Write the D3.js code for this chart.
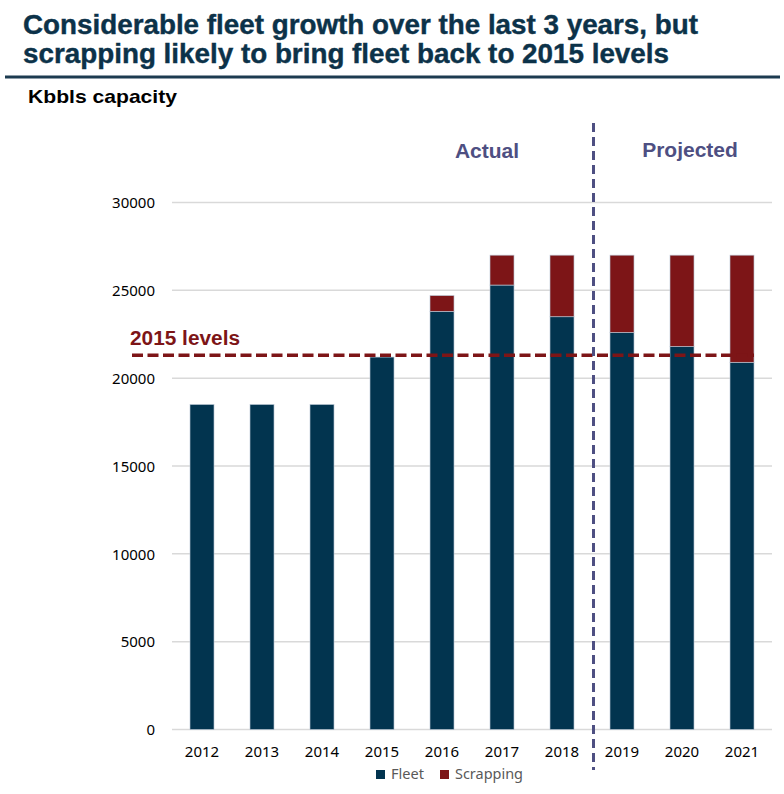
<!DOCTYPE html>
<html><head><meta charset="utf-8">
<script src="https://cdn.jsdelivr.net/npm/d3@7"></script>
<style>body{margin:0;background:#fff}svg{display:block}</style>
</head><body>
<svg id="c" width="784" height="794"></svg>
<script>
const years = ["2012","2013","2014","2015","2016","2017","2018","2019","2020","2021"];
const fleet = [18500,18500,18500,21200,23800,25300,23500,22600,21800,20900];
const scrapping = [0,0,0,0,900,1700,3500,4400,5200,6100];
const yTicks = [0,5000,10000,15000,20000,25000,30000];
const level2015 = 21300;
const seriesNames = ["Fleet","Scrapping"];
const colors = ["#02344f","#7d1517"];

const svg = d3.select("#c");
const x = d3.scaleBand().domain(years).range([172,772]).paddingInner(0.6).paddingOuter(0.3);
const y = d3.scaleLinear().domain([0,30000]).range([729.5,202.5]);
const sans = "Liberation Sans, Arial, sans-serif";

// title
svg.append("text").attr("x",23).attr("y",34).attr("font-family",sans)
  .attr("font-weight","bold").attr("font-size",27).attr("fill","#0c3249")
  .attr("stroke","#0c3249").attr("stroke-width",0.4)
  .attr("textLength",675).attr("lengthAdjust","spacingAndGlyphs")
  .text("Considerable fleet growth over the last 3 years, but");
svg.append("text").attr("x",23).attr("y",63).attr("font-family",sans)
  .attr("font-weight","bold").attr("font-size",27).attr("fill","#0c3249")
  .attr("stroke","#0c3249").attr("stroke-width",0.4)
  .attr("textLength",646).attr("lengthAdjust","spacingAndGlyphs")
  .text("scrapping likely to bring fleet back to 2015 levels");
svg.append("line").attr("x1",5).attr("x2",780).attr("y1",77).attr("y2",77).attr("stroke","#1c3b50").attr("stroke-width",3);
svg.append("text").attr("x",28).attr("y",103).attr("font-family",sans)
  .attr("font-weight","bold").attr("font-size",19).attr("fill","#000")
  .attr("textLength",149).attr("lengthAdjust","spacingAndGlyphs")
  .text("Kbbls capacity");

// grid
svg.append("g").selectAll("line").data(yTicks).join("line")
  .attr("x1",172).attr("x2",772).attr("y1",d=>y(d)).attr("y2",d=>y(d))
  .attr("stroke","#d9d9d9").attr("stroke-width",1.5);

// y axis labels
const yAxis = d3.axisLeft(y).tickValues(yTicks).tickSize(0).tickPadding(0).tickFormat(d3.format("d"));
const gy = svg.append("g").attr("transform","translate(155,0)").call(yAxis);
gy.select(".domain").remove();
gy.selectAll("text").attr("font-family","Noto Sans, sans-serif").attr("font-size",15).attr("fill","#000").attr("dy","0.35em");

// bars
const stackData = years.map((yr,i)=>({year:yr,Fleet:fleet[i],Scrapping:scrapping[i]}));
const stacked = d3.stack().keys(seriesNames)(stackData);
svg.append("g").selectAll("g").data(stacked).join("g").attr("fill",(d,i)=>colors[i])
  .selectAll("rect").data(d=>d.filter(p=>p[1]-p[0]>0)).join("rect")
  .attr("x",d=>x(d.data.year)).attr("width",x.bandwidth())
  .attr("y",d=>y(d[1])).attr("height",d=>y(d[0])-y(d[1]))
  .attr("stroke","#b9c7d4").attr("stroke-width",0.8).attr("stroke-opacity",0.8);

// x axis labels
const xAxis = d3.axisBottom(x).tickSize(0).tickPadding(0);
const gx = svg.append("g").attr("transform","translate(0,757)").call(xAxis);
gx.select(".domain").remove();
gx.selectAll("text").attr("font-family","Noto Sans, sans-serif").attr("font-size",15).attr("fill","#000").attr("dy",0);

// 2015 level line
svg.append("line").attr("x1",132).attr("x2",754).attr("y1",y(level2015)).attr("y2",y(level2015))
  .attr("stroke","#7d1517").attr("stroke-width",3.5).attr("stroke-dasharray","11,4.5");
svg.append("text").attr("x",130).attr("y",345).attr("font-family",sans)
  .attr("font-weight","bold").attr("font-size",20).attr("fill","#7d1517")
  .attr("textLength",110).attr("lengthAdjust","spacingAndGlyphs").text("2015 levels");

// divider
svg.append("line").attr("x1",593.5).attr("x2",593.5).attr("y1",123).attr("y2",770)
  .attr("stroke","#4e4f82").attr("stroke-width",3).attr("stroke-dasharray","9,5");
svg.append("text").attr("x",487).attr("y",158).attr("text-anchor","middle").attr("font-family",sans)
  .attr("font-weight","bold").attr("font-size",21).attr("fill","#4e4f82").text("Actual");
svg.append("text").attr("x",690).attr("y",157).attr("text-anchor","middle").attr("font-family",sans)
  .attr("font-weight","bold").attr("font-size",21).attr("fill","#4e4f82").text("Projected");

// legend
const leg = svg.append("g");
const legItems = [{n:"Fleet",c:colors[0],x:376,w:33},{n:"Scrapping",c:colors[1],x:440,w:68}];
legItems.forEach(it=>{
  leg.append("rect").attr("x",it.x).attr("y",770).attr("width",9).attr("height",9).attr("fill",it.c);
  leg.append("text").attr("x",it.x+15).attr("y",778.5).attr("font-family","Noto Sans, sans-serif")
    .attr("font-size",15).attr("fill","#595959")
    .attr("textLength",it.w).attr("lengthAdjust","spacingAndGlyphs").text(it.n);
});
</script>
</body></html>
